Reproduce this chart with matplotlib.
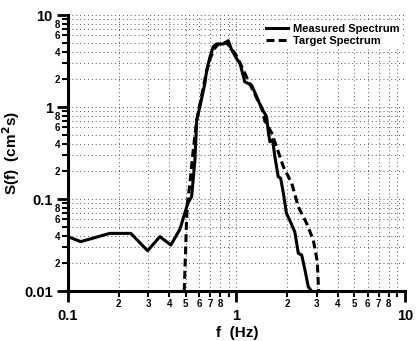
import matplotlib
matplotlib.use("Agg")
import matplotlib.pyplot as plt
from matplotlib import font_manager
from matplotlib.ticker import FixedLocator, FixedFormatter

plt.rcParams['font.family'] = ['Liberation Sans', 'DejaVu Sans']
plt.rcParams['font.weight'] = 'bold'

# Measured spectrum
meas_f = [0.10, 0.119, 0.177, 0.236, 0.297, 0.351, 0.408, 0.462, 0.515, 0.542, 0.567,
          0.581, 0.613, 0.650, 0.666, 0.697, 0.728, 0.762, 0.835, 0.894, 0.937, 1.00,
          1.05, 1.12, 1.23, 1.32, 1.41, 1.51, 1.55, 1.58, 1.64, 1.69, 1.77, 1.83, 1.90,
          1.98, 2.07, 2.22, 2.33, 2.44, 2.55, 2.67, 2.79]
meas_S = [0.039, 0.0344, 0.0423, 0.0423, 0.0274, 0.039, 0.0316, 0.047, 0.0906, 0.106, 0.265,
          0.72, 1.10, 1.81, 2.52, 3.52, 4.52, 4.84, 4.84, 5.26, 4.17, 3.38,
          2.98, 1.88, 1.73, 1.29, 0.97, 0.785, 0.52, 0.42, 0.44, 0.29, 0.175, 0.168, 0.115,
          0.070, 0.059, 0.044, 0.0257, 0.0246, 0.017, 0.0111, 0.0100]

# Target spectrum
targ_f = [0.490, 0.495, 0.500, 0.505, 0.512, 0.530, 0.550, 0.580, 0.620, 0.660, 0.700,
          0.740, 0.780, 0.830, 0.880, 0.930, 1.00, 1.08, 1.18, 1.28, 1.35, 1.41, 1.47,
          1.62, 1.73, 1.90, 2.13, 2.33, 2.61, 2.86, 3.02, 3.06, 3.08]
targ_S = [0.010, 0.018, 0.030, 0.055, 0.090, 0.150, 0.300, 0.700, 1.30, 2.30, 3.40,
          4.30, 4.80, 5.00, 4.90, 4.40, 3.60, 2.70, 1.90, 1.40, 1.14, 1.00, 0.72,
          0.52, 0.37, 0.224, 0.148, 0.082, 0.0544, 0.0358, 0.0208, 0.012, 0.010]

x_major = [0.1, 1, 10]
x_major_labels = ['0.1', '1', '10']
y_major = [0.01, 0.1, 1, 10]
y_major_labels = ['0.01', '0.1', '1', '10']

names = {f.name for f in font_manager.fontManager.ttflist}
if 'Liberation Sans Narrow' in names:
    leg_family, leg_size = 'Liberation Sans Narrow', 9.5
else:
    leg_family, leg_size = 'Liberation Sans', 8.0

fig = plt.figure(figsize=(4.17, 3.41), dpi=100)
ax = fig.add_axes([0.163, 0.1466, 0.808, 0.8094])

ax.plot(meas_f, meas_S, color='black', lw=2.2, label='Measured Spectrum', zorder=3)
ax.plot(targ_f, targ_S, color='black', lw=2.2, ls=(0, (2.6, 1.4)), label='Target Spectrum', zorder=3)

ax.set_xscale('log')
ax.set_yscale('log')
ax.set_xlim(0.1, 10)
ax.set_ylim(0.01, 10)

xmin_pos, xmin_lab = [], []
for dec in [0.1, 1]:
    for m in range(2, 10):
        xmin_pos.append(m * dec)
        xmin_lab.append(str(m) if m <= 8 else '')
ax.xaxis.set_major_locator(FixedLocator(x_major))
ax.xaxis.set_major_formatter(FixedFormatter(x_major_labels))
ax.xaxis.set_minor_locator(FixedLocator(xmin_pos))
ax.xaxis.set_minor_formatter(FixedFormatter(xmin_lab))

ymin_pos, ymin_lab = [], []
for dec in [0.01, 0.1, 1]:
    for m in range(2, 10):
        ymin_pos.append(m * dec)
        ymin_lab.append(str(m) if m in (2, 4, 6, 8) else '')
ax.yaxis.set_major_locator(FixedLocator(y_major))
ax.yaxis.set_major_formatter(FixedFormatter(y_major_labels))
ax.yaxis.set_minor_locator(FixedLocator(ymin_pos))
ax.yaxis.set_minor_formatter(FixedFormatter(ymin_lab))

ax.tick_params(axis='both', which='major', direction='out', length=8, width=2,
               labelsize=10.5)
ax.tick_params(axis='both', which='minor', direction='out', length=4.5, width=1.5,
               labelsize=7)
ax.tick_params(axis='x', which='major', pad=5)
ax.tick_params(axis='x', which='minor', pad=1)
ax.tick_params(axis='y', which='major', pad=3)
ax.tick_params(axis='y', which='minor', pad=0.8)
for lab in ax.get_xticklabels(which='both') + ax.get_yticklabels(which='both'):
    lab.set_fontweight('bold')

ax.grid(True, which='both', color='#555555', ls=(0, (1, 3)), lw=0.7)
for s in ['top', 'right']:
    ax.spines[s].set_visible(False)
for s in ['left', 'bottom']:
    ax.spines[s].set_linewidth(2.2)

ax.set_xlabel('f  (Hz)', fontsize=11, fontweight='bold')
ax.set_ylabel('S(f)  (cm$^\\mathbf{2}$s)', fontsize=11, fontweight='bold')
ax.xaxis.set_label_coords(0.501, -0.125)
ax.yaxis.set_label_coords(-0.135, 0.5)

leg = ax.legend(loc='upper right', bbox_to_anchor=(0.99, 0.975), frameon=True,
                facecolor='white', edgecolor='none', framealpha=1,
                prop={'family': leg_family, 'size': leg_size, 'weight': 'bold'},
                handlelength=2.0, handletextpad=0.4,
                borderpad=0.2, labelspacing=0.15, borderaxespad=0.0)

fig.savefig('out.png', dpi=100)
